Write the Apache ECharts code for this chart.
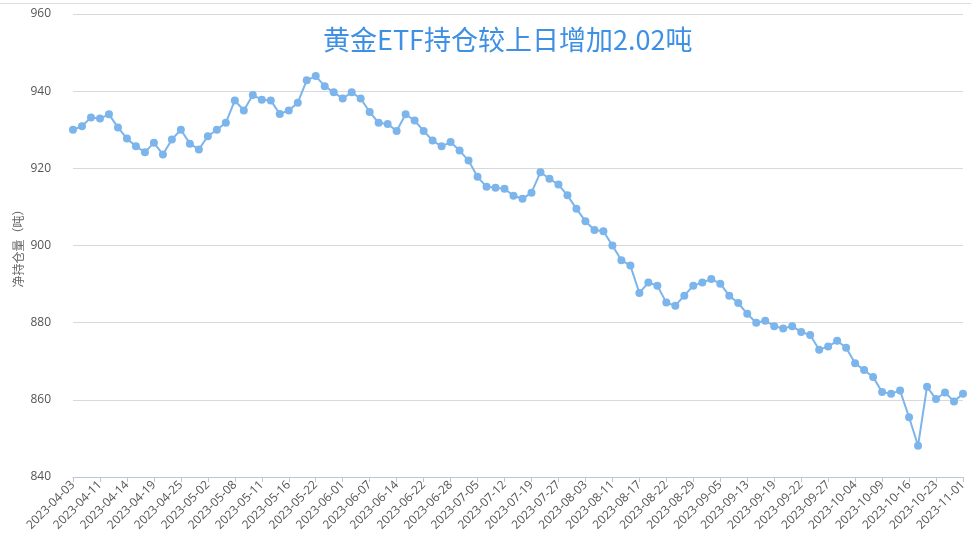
<!DOCTYPE html>
<html>
<head>
<meta charset="utf-8">
<script src="https://cdn.jsdelivr.net/npm/echarts@6/dist/echarts.min.js"></script>
<style>
html,body{margin:0;padding:0;background:#fff;}
#c{width:971px;height:540px;}
</style>
</head>
<body>
<div id="c"></div>
<script>
const titleText = '黄金ETF持仓较上日增加2.02吨';
const yAxisName = '净持仓量（吨）';
const dates = [
'2023-04-03','2023-04-05','2023-04-06','2023-04-11','2023-04-12','2023-04-13','2023-04-14','2023-04-17','2023-04-18','2023-04-19',
'2023-04-21','2023-04-24','2023-04-25','2023-04-26','2023-04-28','2023-05-02','2023-05-04','2023-05-05','2023-05-08','2023-05-09',
'2023-05-10','2023-05-11','2023-05-12','2023-05-15','2023-05-16','2023-05-17','2023-05-19','2023-05-22','2023-05-25','2023-05-30',
'2023-06-01','2023-06-02','2023-06-05','2023-06-07','2023-06-08','2023-06-12','2023-06-14','2023-06-16','2023-06-20','2023-06-22',
'2023-06-26','2023-06-27','2023-06-28','2023-06-30','2023-07-03','2023-07-05','2023-07-07','2023-07-10','2023-07-12','2023-07-14',
'2023-07-17','2023-07-19','2023-07-21','2023-07-25','2023-07-27','2023-07-31','2023-08-01','2023-08-03','2023-08-07','2023-08-09',
'2023-08-11','2023-08-15','2023-08-16','2023-08-17','2023-08-18','2023-08-21','2023-08-22','2023-08-24','2023-08-28','2023-08-29',
'2023-08-31','2023-09-01','2023-09-05','2023-09-07','2023-09-11','2023-09-13','2023-09-15','2023-09-18','2023-09-19','2023-09-20',
'2023-09-21','2023-09-22','2023-09-25','2023-09-26','2023-09-27','2023-09-28','2023-10-02','2023-10-04','2023-10-05','2023-10-06',
'2023-10-09','2023-10-11','2023-10-13','2023-10-16','2023-10-18','2023-10-20','2023-10-23','2023-10-25','2023-10-30','2023-11-01'
];
const holdings = [
930.0,930.9,933.2,932.9,934.0,930.6,927.7,925.7,924.2,926.6,
923.6,927.5,930.0,926.4,924.9,928.3,930.0,931.8,937.6,935.0,
939.0,937.8,937.6,934.1,935.0,937.0,942.8,943.9,941.3,939.7,
938.1,939.7,938.1,934.6,931.8,931.5,929.7,934.0,932.4,929.7,
927.2,925.7,926.8,924.6,922.0,917.8,915.2,915.0,914.7,912.9,
912.1,913.7,919.0,917.3,915.8,913.0,909.5,906.3,904.0,903.7,
900.0,896.2,894.8,887.7,890.4,889.6,885.2,884.4,887.0,889.6,
890.4,891.3,890.1,887.0,885.1,882.3,880.0,880.5,879.1,878.5,
879.1,877.6,876.8,873.0,873.8,875.3,873.5,869.5,867.7,865.9,
862.0,861.6,862.4,855.5,848.1,863.4,860.2,861.9,859.6,861.6
];
const yMin = 840, yMax = 960, yStep = 20;

const chart = echarts.init(document.getElementById('c'));
chart.setOption({
  animation: false,
  backgroundColor: '#fff',
  graphic: [{
    type: 'line', silent: true,
    shape: {x1: 0, y1: 3.5, x2: 971, y2: 3.5},
    style: {stroke: '#dddddd', lineWidth: 1}
  }],
  title: {
    text: titleText,
    left: 318,
    top: 21,
    textStyle: {color: '#3d90e3', fontSize: 27, fontWeight: 'normal', fontFamily: '"Microsoft YaHei","Noto Sans CJK SC",sans-serif'}
  },
  grid: {left: 73, right: 8, top: 14, bottom: 63, containLabel: false},
  xAxis: {
    type: 'category',
    data: dates,
    boundaryGap: false,
    axisLine: {lineStyle: {color: '#b8c7d9'}},
    axisTick: {show: true, interval: 2, lineStyle: {color: '#b8c7d9'}},
    axisLabel: {interval: 2, rotate: 45, color: '#555', fontSize: 12, margin: 6, fontFamily: '"Open Sans","Noto Sans",sans-serif'}
  },
  yAxis: {
    type: 'value',
    min: yMin, max: yMax, interval: yStep,
    name: yAxisName,
    nameLocation: 'middle',
    nameRotate: 90,
    nameGap: 49,
    nameMoveOverlap: false,
    nameTextStyle: {color: '#666', fontSize: 12, fontFamily: '"Noto Sans CJK SC",sans-serif'},
    axisLine: {show: false},
    axisTick: {show: false},
    axisLabel: {color: '#555', fontSize: 12, margin: 22, fontFamily: '"Open Sans","Noto Sans",sans-serif'},
    splitLine: {lineStyle: {color: '#d9d9d9'}}
  },
  series: [{
    type: 'line',
    data: holdings,
    symbol: 'circle',
    symbolSize: 8,
    showAllSymbol: true,
    itemStyle: {color: '#7cb5ec'},
    lineStyle: {color: '#7cb5ec', width: 2}
  }]
});
</script>
</body>
</html>
